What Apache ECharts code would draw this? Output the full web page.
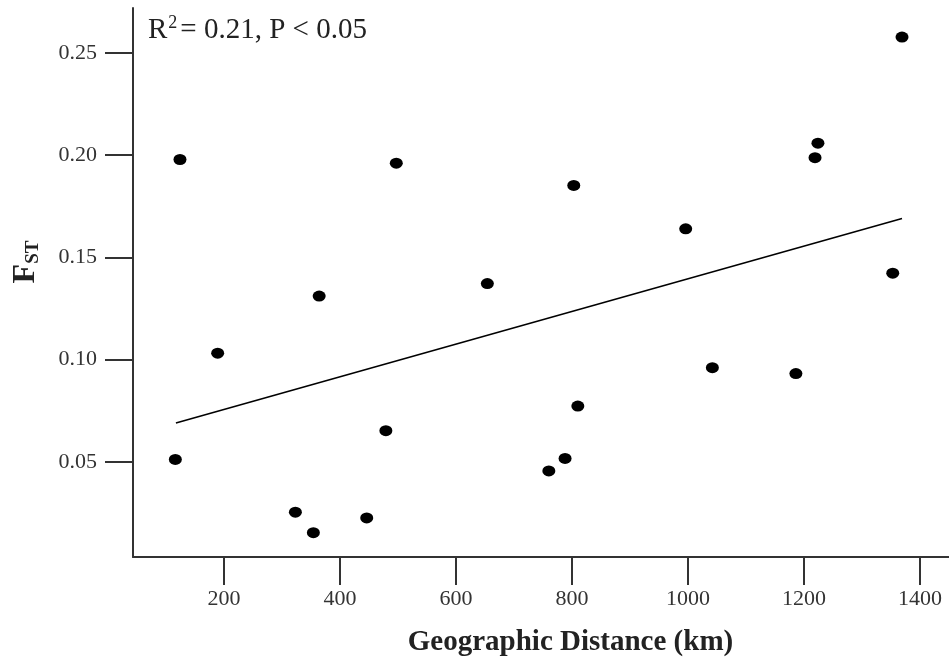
<!DOCTYPE html>
<html><head><meta charset="utf-8">
<script src="https://cdn.jsdelivr.net/npm/echarts@6/dist/echarts.min.js"></script>
<style>html,body{margin:0;padding:0;background:#fff}#c{width:949px;height:662px}</style>
</head><body><div id="c"></div>
<script>
// Geographic distance (km) of each population pair
const distanceKm = [116, 124, 189, 323, 354, 364, 446, 479, 497, 654, 760, 788, 803, 810, 996, 1042, 1186, 1219, 1224, 1353, 1369];
// Pairwise FST values
const fstValues = [0.0512, 0.1979, 0.1032, 0.0254, 0.0154, 0.1311, 0.0226, 0.0653, 0.1961, 0.1372, 0.0456, 0.0517, 0.1852, 0.0773, 0.1640, 0.0961, 0.0932, 0.1988, 0.2059, 0.1423, 0.2578];
// Regression line end points
const trendX = [117, 1369];
const trendY = [0.069, 0.169];
// Tick labels
const xTicks = [200, 400, 600, 800, 1000, 1200, 1400];
const yTicks = [0.05, 0.10, 0.15, 0.20, 0.25];

const serif = 'Liberation Serif';
const axisColor = '#333';

const chart = echarts.init(document.getElementById('c'), null, {renderer: 'canvas'});
chart.setOption({
  animation: false,
  backgroundColor: '#fff',
  grid: {left: 133, right: 0, top: 8, bottom: 103, containLabel: false},
  title: {
    text: '{r|R}{s|2}{r|= 0.21, P < 0.05}',
    left: 143, top: 9,
    textStyle: {
      rich: {
        r: {fontFamily: serif, fontWeight: 'normal', fontSize: 29, color: '#222', lineHeight: 32},
        s: {fontFamily: serif, fontWeight: 'normal', fontSize: 18, color: '#222', verticalAlign: 'top', lineHeight: 18, padding: [0, 3, 0, 1]}
      }
    }
  },
  graphic: [{
    type: 'text',
    x: 26, y: 262,
    rotation: Math.PI / 2,
    style: {
      text: '{f|F}{s|ST}',
      align: 'center',
      verticalAlign: 'middle',
      rich: {
        f: {fontFamily: serif, fontWeight: 'bold', fontSize: 32, fill: '#222', lineHeight: 34},
        s: {fontFamily: serif, fontWeight: 'bold', fontSize: 19, fill: '#222', verticalAlign: 'bottom', lineHeight: 19}
      }
    }
  }],
  xAxis: {
    type: 'value',
    min: 43, max: 1450,
    name: 'Geographic Distance (km)',
    nameLocation: 'middle',
    nameGap: 71,
    nameTextStyle: {fontFamily: serif, fontWeight: 'bold', fontSize: 29, color: '#222', padding: [0, 0, 0, 59]},
    axisLine: {show: true, onZero: false, lineStyle: {color: axisColor, width: 2}},
    axisTick: {show: true, length: 28, customValues: xTicks, lineStyle: {color: axisColor, width: 2}},
    axisLabel: {customValues: xTicks, fontFamily: serif, fontSize: 22, color: '#333', margin: 31,
      formatter: v => String(v)},
    splitLine: {show: false}
  },
  yAxis: {
    type: 'value',
    min: 0.0035, max: 0.272,
    axisLine: {show: true, onZero: false, lineStyle: {color: axisColor, width: 2}},
    axisTick: {show: true, length: 28, customValues: yTicks, lineStyle: {color: axisColor, width: 2}},
    axisLabel: {customValues: yTicks, fontFamily: serif, fontSize: 22, color: '#333', margin: 36,
      formatter: v => v.toFixed(2)},
    splitLine: {show: false}
  },
  series: [
    {
      type: 'line',
      data: trendX.map((x, i) => [x, trendY[i]]),
      symbol: 'none',
      lineStyle: {color: '#000', width: 1.6},
      z: 2
    },
    {
      type: 'scatter',
      data: distanceKm.map((x, i) => [x, fstValues[i]]),
      symbol: 'circle',
      symbolSize: [13, 11],
      itemStyle: {color: '#000', opacity: 1},
      z: 3
    }
  ]
});
</script>
</body></html>
